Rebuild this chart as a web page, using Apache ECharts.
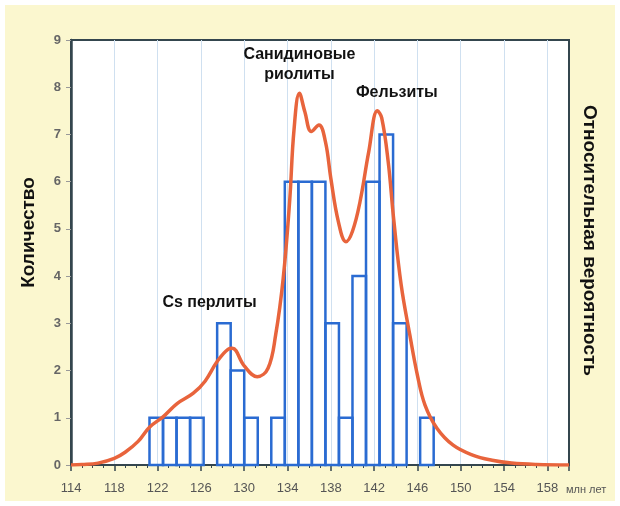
<!DOCTYPE html>
<html>
<head>
<meta charset="utf-8">
<script src="https://cdn.jsdelivr.net/npm/echarts@6/dist/echarts.min.js"></script>
<style>
  html, body { margin: 0; padding: 0; background: #fff; }
  #chart { width: 620px; height: 506px; background: #fbf7cf; box-shadow: inset 0 0 0 5px #fff; }
</style>
</head>
<body>
<div id="chart"></div>
<script>
// histogram bins (млн лет), width 1.25
const binStart = [121.25, 122.5, 123.75, 125, 127.5, 128.75, 130, 132.5, 133.75, 135, 136.25, 137.5, 138.75, 140, 141.25, 142.5, 143.75, 146.25];
const binCount = [1, 1, 1, 1, 3, 2, 1, 1, 6, 6, 6, 3, 1, 4, 6, 7, 3, 1];
const binWidth = 1.25;

// probability curve (scaled to the count axis)
const curveAge = [114, 115, 116.5, 118, 119, 120.2, 121.25, 122.5, 123.8, 125.3, 126.4, 127.5, 128.5, 128.9, 130, 131.2, 132.2, 132.9, 133.6, 134.2, 134.6, 135.1, 135.6, 136.2, 136.9, 137.5, 138, 138.7, 139.4, 140, 140.7, 141.5, 142.3, 142.7, 143.3, 143.8, 144.5, 145.3, 146, 146.7, 147.8, 149.3, 151.1, 152.9, 154.7, 157, 160];
const curveVal = [0.0, 0.01, 0.04, 0.14, 0.27, 0.5, 0.8, 1.02, 1.3, 1.52, 1.78, 2.19, 2.45, 2.47, 2.1, 1.87, 2.05, 2.75, 3.95, 5.6, 7.1, 7.87, 7.48, 7.06, 7.2, 6.85, 6.07, 5.15, 4.73, 4.95, 5.58, 6.63, 7.5, 7.35, 6.42, 5.22, 3.81, 2.75, 1.9, 1.27, 0.78, 0.42, 0.21, 0.1, 0.04, 0.01, 0.0];

const tickLabels = ['114', '118', '122', '126', '130', '134', '138', '142', '146', '150', '154', '158'];

const notes = [
  [135.1, 8.47, 'Санидиновые\nриолиты'],
  [144.1, 7.88, 'Фельзиты'],
  [126.8, 3.43, 'Cs перлиты']
];

// x axis runs from 0 so that ticks line up with 114, 118, ...
const X0 = 114;

const bins = binStart.map((s, i) => [s - X0, s + binWidth - X0, binCount[i]]);
const curve = curveAge.map((a, i) => [a - X0, curveVal[i]]);
const noteData = notes.map(n => ({ value: [n[0] - X0, n[1]], label: { formatter: n[2] } }));

const chart = echarts.init(document.getElementById('chart'));
chart.setOption({
  backgroundColor: 'transparent',
  animation: false,
  grid: {
    left: 71, right: 51, top: 40, bottom: 41,
    show: true, backgroundColor: '#fff', borderColor: '#34464e', borderWidth: 2
  },
  xAxis: {
    type: 'value', min: 0, max: 46, interval: 4,
    name: 'млн лет', nameLocation: 'end', nameGap: -3,
    nameTextStyle: { color: '#555', fontSize: 11, fontFamily: 'Liberation Sans', align: 'left', verticalAlign: 'top', padding: [19, 0, 0, 0] },
    axisLine: { lineStyle: { color: '#34464e', width: 2 } },
    axisTick: { length: 6, lineStyle: { color: '#34464e', width: 1.5 } },
    minorTick: { show: true, splitNumber: 4, length: 3, lineStyle: { color: '#34464e' } },
    splitLine: { show: true, lineStyle: { color: '#cfe0f0', width: 1 } },
    axisLabel: {
      color: '#555', fontSize: 13, fontFamily: 'Liberation Sans', margin: 17,
      formatter: v => tickLabels[Math.round(v / 4)] || ''
    }
  },
  yAxis: [{
    type: 'value', min: 0, max: 9, interval: 1,
    name: 'Количество', nameLocation: 'middle', nameGap: 33, nameRotate: 90,
    nameTextStyle: { color: '#111', fontSize: 19, fontWeight: 'bold', fontFamily: 'Liberation Sans', padding: [0, 0, 0, 40] },
    axisLine: { show: true, lineStyle: { color: '#34464e', width: 2.5 } },
    axisTick: { show: true, length: 5, lineStyle: { color: '#999' } },
    splitLine: { show: false },
    axisLabel: { color: '#666', fontSize: 13, fontWeight: 'bold', fontFamily: 'Liberation Sans', margin: 10 }
  }, {
    type: 'value', min: 0, max: 9, position: 'right',
    name: 'Относительная вероятность', nameLocation: 'middle', nameGap: 11, nameRotate: -90,
    nameTextStyle: { color: '#111', fontSize: 19, fontWeight: 'bold', fontFamily: 'Liberation Sans', padding: [0, 24, 0, 0] },
    axisLine: { show: true, lineStyle: { color: '#34464e', width: 2 } },
    axisTick: { show: false }, axisLabel: { show: false }, splitLine: { show: false }
  }],
  series: [{
    type: 'custom',
    data: bins,
    z: 2,
    renderItem: (params, api) => {
      const p0 = api.coord([api.value(0), api.value(2)]);
      const p1 = api.coord([api.value(1), 0]);
      return {
        type: 'rect',
        shape: { x: p0[0], y: p0[1], width: p1[0] - p0[0], height: p1[1] - p0[1] },
        style: { fill: 'rgba(255,255,255,0)', stroke: '#2a6bd2', lineWidth: 2.5 }
      };
    }
  }, {
    type: 'line',
    data: curve,
    smooth: 0.4,
    showSymbol: false,
    z: 3,
    lineStyle: { color: '#e8643c', width: 3.5 }
  }, {
    type: 'scatter',
    data: noteData,
    symbolSize: 0,
    z: 4,
    itemStyle: { opacity: 1 },
    label: {
      show: true, position: 'inside', color: '#111', fontSize: 16, fontWeight: 'bold',
      fontFamily: 'Liberation Sans', lineHeight: 20, align: 'center'
    }
  }]
});
</script>
</body>
</html>
